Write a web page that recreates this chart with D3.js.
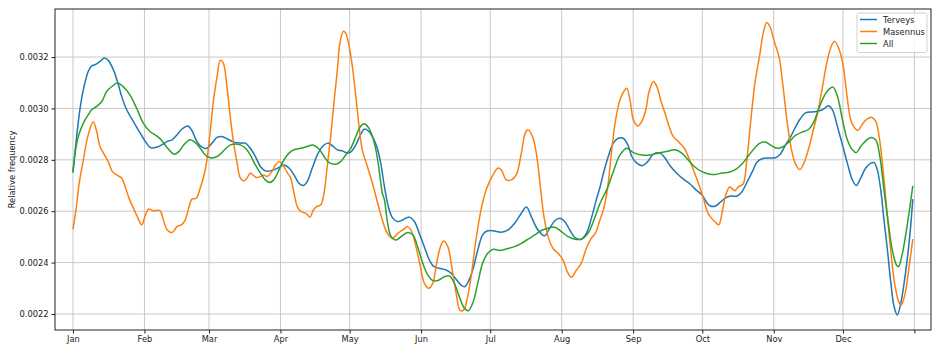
<!DOCTYPE html>
<html>
<head>
<meta charset="utf-8">
<script src="https://cdn.jsdelivr.net/npm/d3@7"></script>
<style>
  html, body { margin: 0; padding: 0; background: #fff; }
  svg { display: block; font-family: "DejaVu Sans", sans-serif; }
</style>
</head>
<body>
<div id="chart"></div>
<script>
// day offsets from Jan 1 (2019) paired with relative frequency
const terveys = [
  [0, .002750], [1.6, .002891], [3.0, .002995], [4.5, .003073], [6.6, .003144], [8.1, .003166],
  [9.5, .003170], [11.7, .003183], [13.6, .003196], [15.3, .003187], [17.5, .003151], [19.7, .003092],
  [21.1, .003047], [23.3, .002995], [26.2, .002949], [28.3, .002917], [30.5, .002884], [32.7, .002855],
  [34.1, .002846], [36.3, .002849], [38.5, .002858], [40.7, .002871], [43.0, .002878], [45.1, .002897],
  [47.3, .002920], [49.8, .002932], [51.6, .002914], [53.8, .002871], [56.0, .002849], [57.8, .002844],
  [60.3, .002865], [62.5, .002887], [64.6, .002891], [66.8, .002882], [69.7, .002869], [72.6, .002865],
  [74.8, .002865], [76.9, .002845], [79.1, .002813], [81.3, .002774], [83.4, .002757], [85.6, .002757],
  [87.8, .002764], [89.4, .002770], [91.5, .002780], [93.7, .002768], [95.9, .002741], [98.0, .002709],
  [99.9, .002700], [101.6, .002715], [103.8, .002768], [106.0, .002819], [108.2, .002852], [110.6, .002865],
  [112.5, .002855], [114.7, .002839], [116.8, .002835], [119.0, .002826], [120.7, .002832], [122.7, .002858],
  [124.7, .002897], [126.5, .002920], [128.4, .002910], [130.3, .002884], [132.0, .002845], [133.5, .002787],
  [135.1, .002696], [136.8, .002618], [138.7, .002573], [140.9, .002560], [143.0, .002566], [145.9, .002577],
  [148.1, .002560], [150.2, .002514], [152.4, .002462], [154.6, .002410], [156.7, .002384], [158.9, .002378],
  [161.8, .002371], [164.0, .002359], [166.2, .002335], [168.3, .002313], [169.8, .002306], [171.5, .002326],
  [173.4, .002371], [175.6, .002449], [177.7, .002508], [179.6, .002523], [182.2, .002524], [185.8, .002518],
  [188.7, .002527], [191.6, .002553], [194.5, .002592], [196.7, .002616], [198.8, .002579], [201.7, .002527],
  [204.6, .002504], [206.8, .002534], [209.0, .002563], [211.1, .002573], [213.3, .002560], [215.5, .002527],
  [217.9, .002496], [220.5, .002491], [222.7, .002514], [224.9, .002573], [227.0, .002644], [228.6, .002693],
  [230.1, .002748], [232.2, .002813], [234.4, .002865], [236.6, .002884], [238.7, .002884], [240.7, .002858],
  [242.4, .002813], [244.6, .002787], [247.0, .002777], [249.3, .002793], [251.8, .002822], [254.7, .002826],
  [256.8, .002807], [259.0, .002777], [261.9, .002748], [264.8, .002725], [267.7, .002706], [269.9, .002686],
  [272.8, .002664], [275.1, .002631], [276.5, .002620], [278.7, .002620], [280.8, .002635], [283.0, .002651],
  [285.2, .002659], [288.1, .002659], [290.2, .002676], [292.4, .002713], [294.6, .002752], [296.7, .002791],
  [298.9, .002804], [301.8, .002807], [304.7, .002808], [306.9, .002823], [309.0, .002856], [311.2, .002888],
  [313.4, .002927], [315.5, .002960], [317.7, .002983], [321.5, .002987], [325.1, .002995], [327.7, .003010],
  [329.4, .002995], [331.6, .002930], [333.8, .002858], [335.9, .002787], [338.1, .002722], [339.8, .002700],
  [341.7, .002729], [343.9, .002768], [346.1, .002787], [347.5, .002789], [348.9, .002761], [350.4, .002683],
  [351.8, .002566], [353.3, .002449], [354.8, .002320], [356.2, .002228], [357.6, .002196], [359.1, .002242],
  [361.3, .002371], [363.1, .002514], [364.3, .002647]
];

const masennus = [
  [0, .002530], [1.3, .002605], [2.7, .002709], [4.5, .002800], [6.6, .002897], [8.8, .002948],
  [10.3, .002910], [11.7, .002852], [13.2, .002826], [15.3, .002793], [17.1, .002754], [19.0, .002741],
  [21.1, .002729], [22.6, .002696], [24.3, .002651], [26.2, .002612], [27.9, .002579], [29.8, .002547],
  [31.2, .002579], [32.7, .002608], [34.8, .002602], [37.7, .002602], [39.2, .002566], [40.9, .002527],
  [43.0, .002517], [45.1, .002540], [47.3, .002549], [48.7, .002566], [50.2, .002612], [51.6, .002647],
  [53.5, .002651], [55.2, .002690], [56.7, .002735], [58.1, .002800], [59.6, .002917], [61.0, .003034],
  [62.5, .003124], [63.9, .003187], [65.1, .003179], [66.8, .003085], [68.2, .002969], [69.7, .002865],
  [71.2, .002787], [72.6, .002729], [74.1, .002718], [75.5, .002729], [76.9, .002748], [78.1, .002741],
  [79.5, .002731], [81.3, .002735], [82.7, .002741], [84.2, .002735], [86.3, .002754], [87.8, .002780],
  [89.4, .002793], [90.8, .002784], [92.7, .002754], [94.4, .002729], [95.9, .002670], [97.3, .002618],
  [98.8, .002599], [101.0, .002592], [102.8, .002577], [104.3, .002605], [105.7, .002618], [107.5, .002625],
  [108.9, .002670], [110.3, .002774], [111.8, .002891], [113.2, .003021], [114.7, .003151], [115.8, .003255],
  [117.3, .003300], [118.3, .003293], [119.8, .003241], [121.2, .003163], [122.7, .003047], [124.1, .002930],
  [125.5, .002839], [127.7, .002774], [129.9, .002709], [132.0, .002637], [134.2, .002566], [135.1, .002540],
  [136.8, .002508], [138.7, .002495], [140.9, .002514], [143.0, .002527], [145.2, .002540], [146.9, .002521],
  [148.8, .002462], [150.7, .002384], [152.4, .002320], [154.3, .002300], [156.1, .002320], [157.5, .002384],
  [159.4, .002462], [160.8, .002484], [162.6, .002462], [164.3, .002384], [166.2, .002281], [168.0, .002213],
  [169.5, .002216], [170.9, .002255], [172.7, .002345], [174.8, .002488], [177.0, .002605], [179.2, .002683],
  [182.2, .002741], [184.4, .002768], [185.8, .002761], [188.0, .002722], [190.2, .002722], [192.3, .002741],
  [194.5, .002826], [196.2, .002904], [197.4, .002917], [199.6, .002884], [201.4, .002800], [202.9, .002683],
  [204.3, .002579], [206.1, .002501], [208.2, .002456], [210.4, .002436], [212.6, .002410], [214.4, .002365],
  [216.2, .002343], [218.4, .002371], [220.5, .002398], [222.7, .002456], [224.9, .002495], [226.6, .002514],
  [228.6, .002566], [230.1, .002605], [232.0, .002696], [233.7, .002839], [235.4, .002956], [237.3, .003034],
  [239.2, .003070], [240.2, .003079], [241.6, .003034], [243.1, .002956], [245.0, .002932], [246.7, .002949],
  [248.5, .002995], [249.9, .003066], [251.8, .003105], [253.3, .003085], [255.1, .003027], [256.8, .002982],
  [258.6, .002930], [260.4, .002891], [262.6, .002871], [265.2, .002845], [266.9, .002813], [269.1, .002761],
  [271.3, .002709], [273.5, .002650], [275.1, .002600], [276.6, .002577], [278.4, .002560], [280.1, .002547],
  [281.6, .002596], [283.1, .002661], [284.9, .002694], [287.1, .002680], [288.5, .002694], [290.7, .002706],
  [292.2, .002791], [294.1, .002960], [295.9, .003103], [298.0, .003213], [299.5, .003297], [300.9, .003334],
  [302.4, .003317], [304.3, .003258], [306.3, .003200], [307.8, .003103], [309.8, .002947], [311.6, .002843],
  [313.4, .002784], [315.3, .002762], [316.9, .002784], [319.1, .002843], [321.3, .002921], [322.8, .002975],
  [324.9, .003073], [327.0, .003177], [328.9, .003241], [330.4, .003261], [332.1, .003235], [333.9, .003177],
  [335.7, .003053], [337.2, .002962], [338.6, .002930], [340.5, .002914], [342.2, .002936], [344.4, .002958],
  [346.6, .002965], [348.3, .002949], [349.9, .002878], [351.4, .002761], [352.9, .002618], [354.7, .002449],
  [356.4, .002320], [358.2, .002248], [359.3, .002235], [361.0, .002281], [362.9, .002398], [364.3, .002491]
];

const all = [
  [0, .002754], [0.9, .002826], [2.3, .002891], [4.5, .002943], [6.6, .002975], [8.1, .002995],
  [10.3, .003008], [12.5, .003027], [14.6, .003066], [16.8, .003085], [19.2, .003099], [21.8, .003085],
  [24.7, .003053], [27.6, .003001], [30.5, .002943], [33.4, .002910], [36.3, .002893], [38.5, .002875],
  [40.7, .002849], [43.9, .002822], [45.9, .002832], [48.0, .002858], [50.9, .002878], [53.1, .002867],
  [55.2, .002845], [57.4, .002819], [59.6, .002808], [61.8, .002810], [63.9, .002822], [66.1, .002842],
  [68.3, .002858], [70.4, .002862], [72.6, .002858], [74.8, .002845], [76.9, .002819], [79.1, .002780],
  [81.3, .002748], [83.4, .002722], [85.3, .002712], [87.1, .002722], [89.4, .002761], [91.5, .002800],
  [93.7, .002826], [95.9, .002839], [98.8, .002845], [101.6, .002852], [104.1, .002858], [106.7, .002842],
  [108.9, .002813], [111.1, .002789], [114.0, .002783], [116.1, .002793], [118.3, .002819], [120.5, .002845],
  [122.7, .002891], [124.5, .002927], [126.3, .002940], [128.1, .002927], [129.9, .002891], [131.4, .002839],
  [132.8, .002761], [134.2, .002670], [135.1, .002644], [136.5, .002553], [138.0, .002501], [140.1, .002488],
  [142.3, .002501], [145.2, .002517], [147.4, .002508], [149.5, .002462], [151.7, .002398], [153.9, .002352],
  [156.1, .002330], [158.2, .002330], [161.1, .002345], [163.3, .002348], [165.4, .002320], [167.6, .002267],
  [169.8, .002222], [171.5, .002213], [173.4, .002242], [175.6, .002320], [177.7, .002398], [179.9, .002436],
  [182.2, .002452], [185.1, .002447], [188.0, .002453], [191.6, .002462], [194.5, .002475], [197.4, .002491],
  [200.3, .002508], [203.2, .002525], [206.1, .002534], [209.0, .002538], [211.8, .002521], [214.8, .002501],
  [217.7, .002491], [220.5, .002491], [223.4, .002514], [226.0, .002566], [228.6, .002630], [231.5, .002683],
  [234.4, .002754], [237.3, .002819], [240.2, .002845], [243.1, .002828], [246.7, .002819], [250.3, .002819],
  [253.9, .002826], [257.5, .002832], [261.2, .002839], [264.1, .002826], [266.8, .002800], [269.9, .002771],
  [272.8, .002754], [275.8, .002745], [278.7, .002743], [281.6, .002749], [284.5, .002752], [287.3, .002762],
  [290.2, .002784], [293.1, .002817], [296.0, .002849], [298.2, .002866], [300.3, .002869], [302.5, .002858],
  [305.4, .002845], [307.6, .002849], [310.5, .002869], [313.4, .002895], [316.3, .002908], [319.2, .002919],
  [321.5, .002950], [323.6, .003001], [325.8, .003047], [328.0, .003075], [329.7, .003083], [331.6, .003047],
  [333.8, .002956], [335.9, .002878], [338.1, .002839], [339.8, .002828], [341.7, .002852], [343.9, .002874],
  [346.1, .002887], [348.2, .002878], [350.0, .002813], [351.8, .002683], [353.7, .002553], [355.4, .002449],
  [357.2, .002391], [358.1, .002384], [359.8, .002436], [362.0, .002553], [364.3, .002699]
];

const seriesNames = ['Terveys', 'Masennus', 'All'];
const yTicks = [0.0022, 0.0024, 0.0026, 0.0028, 0.0030, 0.0032];
const monthLabels = ['Jan', 'Feb', 'Mar', 'Apr', 'May', 'Jun', 'Jul', 'Aug', 'Sep', 'Oct', 'Nov', 'Dec', ''];

const colors = ['#1f77b4', '#ff7f0e', '#2ca02c'];
const width = 939, height = 352;
const margin = { top: 9, right: 8, bottom: 22, left: 55 };
const fontSize = 8.3;
const lineWidth = 1.5;

const base = Date.UTC(2019, 0, 1);
const dayToDate = d => new Date(base + d * 864e5);

const svg = d3.select('#chart').append('svg')
    .attr('width', width)
    .attr('height', height);

const x = d3.scaleUtc()
    .domain([dayToDate(-7.8), dayToDate(372.2)])
    .range([margin.left, width - margin.right]);

const y = d3.scaleLinear()
    .domain([0.0021377, 0.003387])
    .range([height - margin.bottom, margin.top]);

const monthTicks = d3.utcMonth.range(new Date(base), new Date(Date.UTC(2020, 0, 2)));

// grid
const grid = svg.append('g').attr('class', 'grid')
    .attr('stroke', '#c8c8c8')
    .attr('stroke-width', 1);

grid.selectAll('.vgrid').data(monthTicks).enter().append('line')
    .attr('x1', d => x(d)).attr('x2', d => x(d))
    .attr('y1', margin.top).attr('y2', height - margin.bottom);

grid.selectAll('.hgrid').data(yTicks).enter().append('line')
    .attr('x1', margin.left).attr('x2', width - margin.right)
    .attr('y1', d => y(d)).attr('y2', d => y(d));

// lines
const line = d3.line()
    .x(d => x(dayToDate(d[0])))
    .y(d => y(d[1]))
    .curve(d3.curveCatmullRom.alpha(0.5));

[terveys, masennus, all].forEach((data, i) => {
    svg.append('path')
        .datum(data)
        .attr('fill', 'none')
        .attr('stroke', colors[i])
        .attr('stroke-width', lineWidth)
        .attr('stroke-linejoin', 'round')
        .attr('d', line);
});

// axes
const xAxis = d3.axisBottom(x)
    .tickValues(monthTicks)
    .tickFormat((d, i) => monthLabels[i])
    .tickSize(3.5)
    .tickPadding(3)
    .tickSizeOuter(0);

const yAxis = d3.axisLeft(y)
    .tickValues(yTicks)
    .tickFormat(d3.format('.4f'))
    .tickSize(3.5)
    .tickPadding(3)
    .tickSizeOuter(0);

const gx = svg.append('g')
    .attr('transform', `translate(0,${height - margin.bottom})`)
    .call(xAxis);
const gy = svg.append('g')
    .attr('transform', `translate(${margin.left},0)`)
    .call(yAxis);

[gx, gy].forEach(g => {
    g.select('.domain').remove();
    g.selectAll('text')
        .attr('fill', '#222')
        .style('font-size', fontSize + 'px')
        .style('font-family', '"DejaVu Sans", sans-serif');
    g.selectAll('line').attr('stroke', '#222');
});

// frame
svg.append('rect')
    .attr('x', margin.left)
    .attr('y', margin.top)
    .attr('width', width - margin.right - margin.left)
    .attr('height', height - margin.bottom - margin.top)
    .attr('fill', 'none')
    .attr('stroke', '#222')
    .attr('stroke-width', 1);

svg.append('text')
    .attr('text-anchor', 'middle')
    .attr('transform', `translate(12,${(margin.top + height - margin.bottom) / 2}) rotate(-90)`)
    .attr('dominant-baseline', 'middle')
    .attr('fill', '#222')
    .style('font-size', fontSize + 'px')
    .text('Relative frequency');

// legend
const legend = svg.append('g').attr('transform', 'translate(857,13)');
legend.append('rect')
    .attr('width', 70)
    .attr('height', 39.5)
    .attr('rx', 2)
    .attr('fill', '#fff')
    .attr('fill-opacity', 0.8)
    .attr('stroke', '#d0d0d0');

seriesNames.forEach((name, i) => {
    const ly = 6.5 + i * 12;
    legend.append('line')
        .attr('x1', 3).attr('x2', 20)
        .attr('y1', ly).attr('y2', ly)
        .attr('stroke', colors[i])
        .attr('stroke-width', lineWidth);
    legend.append('text')
        .attr('x', 26)
        .attr('y', ly)
        .attr('dominant-baseline', 'central')
        .attr('fill', '#222')
        .style('font-size', fontSize + 'px')
        .text(name);
});
</script>
</body>
</html>
